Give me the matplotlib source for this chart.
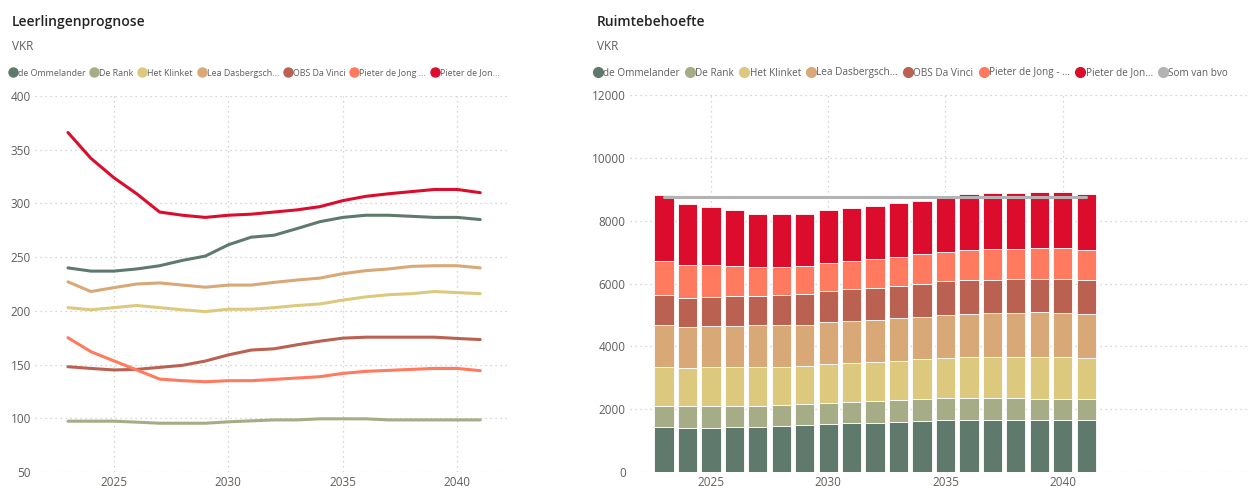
import numpy as np
import matplotlib.pyplot as plt
from matplotlib.lines import Line2D

plt.rcParams['font.family'] = ['Open Sans', 'DejaVu Sans']

years = list(range(2023, 2042))

# leerlingenprognose (aantal leerlingen)
ommelander = [240, 237, 237, 239, 242, 247, 251, 261.5, 268.6, 270.4, 276.6, 283, 287, 289, 289, 288, 287, 287, 285]
de_rank = [97.3, 97.3, 97.3, 96.4, 95.4, 95.4, 95.4, 96.7, 97.6, 98.5, 98.5, 99.5, 99.5, 99.5, 98.5, 98.5, 98.5, 98.5, 98.5]
klinket = [203, 201, 203, 205, 203, 201, 199.3, 201.5, 201.5, 203, 205, 206.4, 210, 213, 215, 216, 218, 217, 216]
lea = [227, 218, 221.6, 225, 226, 224, 222, 224, 224, 226.5, 228.7, 230.5, 234.6, 237.4, 239, 241.4, 242, 242, 240]
da_vinci = [148, 146.4, 145, 145.5, 147.4, 149.3, 153.3, 159, 163.5, 164.7, 168.4, 171.8, 174.6, 175.5, 175.5, 175.5, 175.5, 174.3, 173.3]
pdj_a = [175, 162, 153.5, 145, 136.5, 135, 134, 135, 135, 136.2, 137.5, 138.7, 141.8, 143.7, 144.6, 145.5, 146.4, 146.4, 144.3]
pdj_b = [366, 342, 324, 309, 292, 289, 287, 289, 290, 292, 294, 297, 302.6, 306.6, 309, 311, 313, 313, 310]

# ruimtebehoefte (cumulatieve bovenkanten per school, gelezen uit de gestapelde staven)
top_ommelander = [1420, 1410, 1410, 1420, 1420, 1452, 1484, 1516, 1558, 1558, 1590, 1632, 1664, 1664, 1664, 1664, 1664, 1664, 1643]
top_rank = [2099, 2088, 2088, 2088, 2099, 2120, 2162, 2205, 2237, 2268, 2290, 2321, 2343, 2364, 2353, 2343, 2332, 2332, 2332]
top_klinket = [3339, 3307, 3328, 3339, 3339, 3339, 3381, 3445, 3477, 3487, 3540, 3583, 3625, 3668, 3668, 3668, 3668, 3668, 3636]
top_lea = [4664, 4611, 4632, 4653, 4664, 4664, 4675, 4759, 4802, 4844, 4887, 4940, 4993, 5035, 5056, 5056, 5077, 5056, 5035]
top_vinci = [5629, 5554, 5565, 5597, 5618, 5629, 5671, 5766, 5819, 5851, 5925, 5989, 6084, 6116, 6127, 6137, 6148, 6137, 6116]
top_pdj_a = [6731, 6593, 6583, 6572, 6540, 6540, 6561, 6667, 6720, 6773, 6848, 6932, 7017, 7081, 7091, 7113, 7123, 7123, 7081]
top_pdj_b = [8809, 8544, 8427, 8353, 8226, 8204, 8226, 8342, 8416, 8469, 8554, 8639, 8734, 8840, 8872, 8893, 8925, 8904, 8862]
som_bvo = 8745

names_left = ['de Ommelander', 'De Rank', 'Het Klinket', 'Lea Dasbergsch...', 'OBS Da Vinci',
              'Pieter de Jong ...', 'Pieter de Jon...']
names_right = ['de Ommelander', 'De Rank', 'Het Klinket', 'Lea Dasbergsch...', 'OBS Da Vinci',
               'Pieter de Jong - ...', 'Pieter de Jon...', 'Som van bvo']
colors = ['#5F7A6D', '#A6AC85', '#DCC97E', '#D9A877', '#BB6151', '#FF7A5E', '#DC0D2C']
grey = '#B3B3B3'
txt = '#605E5C'

fig = plt.figure(figsize=(12.48, 4.86), dpi=100)

# ---------- links: lijnen
ax1 = fig.add_axes([35 / 1248, 1 - 472 / 486, 475 / 1248, 376 / 486])
for vals, c in zip([ommelander, de_rank, klinket, lea, da_vinci, pdj_a, pdj_b], colors):
    ax1.plot(years, vals, color=c, lw=2.2, solid_capstyle='round')
ax1.set_ylim(50, 400)
ax1.set_xlim(2021.56, 2042.3)
ax1.set_yticks(range(50, 401, 50))
ax1.set_xticks([2025, 2030, 2035, 2040])

# ---------- rechts: gestapelde staven
ax2 = fig.add_axes([630 / 1248, 1 - 472 / 486, 618 / 1248, 377 / 486])
tops = [top_ommelander, top_rank, top_klinket, top_lea, top_vinci, top_pdj_a, top_pdj_b]
bottom = np.zeros(len(years))
for t, c in zip(tops, colors):
    t = np.array(t, dtype=float)
    ax2.bar(years, t - bottom, bottom=bottom, width=0.82, color=c, edgecolor='white', linewidth=0.6)
    bottom = t
ax2.plot([years[0], years[-1]], [som_bvo, som_bvo], color=grey, lw=2.2, solid_capstyle='round')
ax2.set_ylim(0, 12000)
ax2.set_xlim(2021.55, 2047.9)
ax2.set_yticks(range(0, 12001, 2000))
ax2.set_xticks([2025, 2030, 2035, 2040])

for ax in (ax1, ax2):
    for s in ax.spines.values():
        s.set_visible(False)
    ax.tick_params(length=0, labelsize=8.5, colors=txt, pad=3)
    ax.grid(True, color='#C8C8C8', linestyle=(0, (1, 3)), linewidth=0.9)
    ax.set_axisbelow(True)
    ax.set_facecolor('none')

# titels
fig.text(12 / 1248, 1 - 22 / 486, 'Leerlingenprognose', fontsize=10, color='#252423',
         fontweight='semibold', va='center', ha='left')
fig.text(12 / 1248, 1 - 46 / 486, 'VKR', fontsize=8.5, color=txt, va='center', ha='left')
fig.text(597 / 1248, 1 - 22 / 486, 'Ruimtebehoefte', fontsize=10, color='#252423',
         fontweight='semibold', va='center', ha='left')
fig.text(597 / 1248, 1 - 46 / 486, 'VKR', fontsize=8.5, color=txt, va='center', ha='left')

# legenda's
def handles(names, cols, ms):
    return [Line2D([], [], marker='o', linestyle='none', markersize=ms, markerfacecolor=c,
                   markeredgecolor=c, label=n) for n, c in zip(names, cols)]

leg_kw = dict(loc='center left', frameon=False, handletextpad=0.0,
              columnspacing=0.45, borderpad=0, borderaxespad=0, handlelength=1.1)
l1 = fig.legend(handles=handles(names_left, colors, 6.5), ncol=7, fontsize=6.4,
                bbox_to_anchor=(8 / 1248, 1 - 73 / 486), **leg_kw)
l2 = fig.legend(handles=handles(names_right, colors + [grey], 7.0), ncol=8, fontsize=7.2,
                bbox_to_anchor=(592 / 1248, 1 - 73 / 486), **leg_kw)
for l in (l1, l2):
    for t in l.get_texts():
        t.set_color(txt)

fig.savefig('out.png', dpi=100, facecolor='white')
